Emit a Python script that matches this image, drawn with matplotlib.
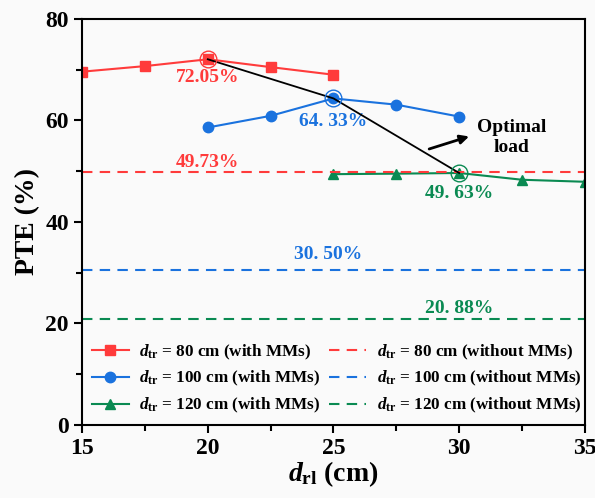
import numpy as np
import matplotlib.pyplot as plt

plt.rcParams['font.family'] = 'Liberation Serif'
plt.rcParams['font.weight'] = 'bold'
plt.rcParams['mathtext.fontset'] = 'custom'
plt.rcParams['mathtext.rm'] = 'Liberation Serif:bold'
plt.rcParams['mathtext.it'] = 'Liberation Serif:italic:bold'
plt.rcParams['mathtext.bf'] = 'Liberation Serif:bold'

# data
x80 = [15, 17.5, 20, 22.5, 25]
pte80 = [69.6, 70.7, 72.05, 70.5, 69.0]
x100 = [20, 22.5, 25, 27.5, 30]
pte100 = [58.6, 60.9, 64.33, 63.1, 60.75]
x120 = [25, 27.5, 30, 32.5, 35]
pte120 = [49.4, 49.5, 49.63, 48.3, 47.9]
no_mm = [49.73, 30.50, 20.88]
best_x = [20, 25, 30]
best_y = [72.05, 64.33, 49.63]
best_txt = ['72.05%', '64. 33%', '49. 63%']
base_txt = ['49.73%', '30. 50%', '20. 88%']
base_txt_x = [20, 24.8, 30]

red = '#FF3B3B'
blue = '#1A72DE'
green = '#0A8A52'
cols = [red, blue, green]

fig = plt.figure(figsize=(5.95, 4.98), dpi=100)
fig.patch.set_facecolor('#FAFAFA')
ax = fig.add_axes([0.138, 0.147, 0.845, 0.815])
ax.set_facecolor('#FAFAFA')

ax.plot(x80, pte80, color=red, marker='s', ms=6.5, lw=1.5, label=r'$d_{\mathrm{tr}}$ = 80 cm (with MMs)')
ax.plot(x100, pte100, color=blue, marker='o', ms=7.5, lw=1.5, label=r'$d_{\mathrm{tr}}$ = 100 cm (with MMs)')
ax.plot(x120, pte120, color=green, marker='^', ms=7.5, lw=1.5, label=r'$d_{\mathrm{tr}}$ = 120 cm (with MMs)')
names = ['80', '100', '120']
for v, c, n in zip(no_mm, cols, names):
    ax.axhline(v, color=c, ls=(0, (5, 3.5)), lw=1.5,
               label=r'$d_{\mathrm{tr}}$ = ' + n + ' cm (without MMs)')

# optimal load path and circles
ax.plot(best_x, best_y, color='black', lw=1.3, zorder=4)
for bx, by, c in zip(best_x, best_y, cols):
    ax.plot(bx, by, marker='o', ms=12, mfc='none', mec=c, mew=1.0, zorder=5)

offs = [-3.6, -4.6, -4.0]
for bx, by, t, c, o in zip(best_x, best_y, best_txt, cols, offs):
    ax.text(bx, by + o, t, color=c, fontsize=14, fontweight='bold', ha='center', va='center')
base_offs = [1.9, 3.0, 2.0]
for bx, v, t, c, o in zip(base_txt_x, no_mm, base_txt, cols, base_offs):
    ax.text(bx, v + o, t, color=c, fontsize=14, fontweight='bold', ha='center', va='center')

ax.annotate('', xy=(30.5, 57.0), xytext=(28.7, 54.2),
            arrowprops=dict(arrowstyle='-|>', color='black', lw=2, mutation_scale=13))
ax.text(32.1, 56.7, 'Optimal\nload', fontsize=14, fontweight='bold', ha='center', va='center',
        linespacing=1.25)

ax.set_xlim(15, 35)
ax.set_ylim(0, 80)
ax.set_xticks([15, 20, 25, 30, 35])
ax.set_yticks([0, 20, 40, 60, 80])
ax.set_xticks(np.arange(17.5, 35, 5), minor=True)
ax.set_yticks(np.arange(10, 80, 20), minor=True)
ax.tick_params(which='major', direction='out', length=6, width=1.5, labelsize=17)
ax.tick_params(which='minor', direction='out', length=4, width=1.5)
for s in ax.spines.values():
    s.set_linewidth(1.5)
ax.set_xlabel(r'$d_{\mathrm{rl}}$ (cm)', fontsize=20, fontweight='bold', labelpad=0)
ax.set_ylabel('PTE (%)', fontsize=20, fontweight='bold', labelpad=4)

ax.legend(loc='lower left', ncol=2, frameon=False, fontsize=12.3, handlelength=2.2,
          columnspacing=0.5, labelspacing=0.45, borderaxespad=0.4, handletextpad=0.6,
          borderpad=0.15)

fig.savefig('out.png', dpi=100, facecolor=fig.get_facecolor())
